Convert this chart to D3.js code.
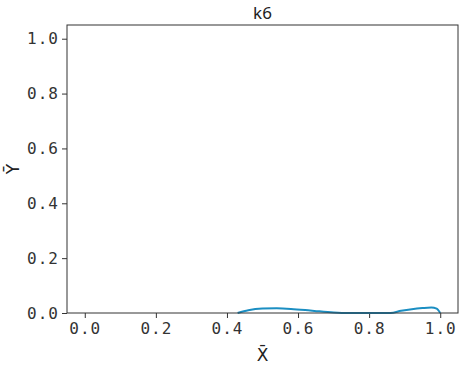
<!DOCTYPE html>
<html lang="en">
<head>
  <meta charset="UTF-8" />
  <title>k6</title>
  <script src="https://d3js.org/d3.v7.min.js"></script>
  <style>
    body { margin: 0; background: #fff; }
    .tick text { font-family: "DejaVu Sans Mono", monospace; font-size: 16px; fill: #333; }
  </style>
</head>
<body>
  <svg id="chart" width="460" height="365"></svg>
  <script>
    // curve values
    const xVals = [0.43, 0.46, 0.50, 0.54, 0.58, 0.62, 0.66, 0.70, 0.74, 0.80, 0.86, 0.89, 0.92, 0.95, 0.975, 0.99, 1.0];
    const yVals = [0, 0.010, 0.016, 0.017, 0.015, 0.011, 0.006, 0.002, 0, 0, 0, 0.008, 0.014, 0.018, 0.020, 0.016, 0];
    const tickVals = [0, 0.2, 0.4, 0.6, 0.8, 1.0];

    const margin = { top: 25, right: 2, bottom: 52, left: 67 },
          width = 460 - margin.left - margin.right,
          height = 365 - margin.top - margin.bottom;

    const svg = d3.select("#chart");
    const g = svg.append("g")
      .attr("transform", `translate(${margin.left},${margin.top})`);

    const x = d3.scaleLinear().domain([-0.05, 1.05]).range([0, width]);
    const y = d3.scaleLinear().domain([0, 1.05]).range([height, 0]);

    // axes
    const fmt = d3.format(".1f");
    g.append("g")
      .attr("transform", `translate(0,${height})`)
      .call(d3.axisBottom(x).tickValues(tickVals).tickFormat(fmt).tickSize(5).tickPadding(5))
      .call(a => a.select(".domain").remove());
    g.append("g")
      .call(d3.axisLeft(y).tickValues(tickVals).tickFormat(fmt).tickSize(5).tickPadding(3))
      .call(a => a.select(".domain").remove());
    g.selectAll(".tick line").attr("stroke", "#333");
    g.selectAll(".tick text").style("letter-spacing", "1px");

    // curve
    const pts = xVals.map((v, i) => [v, yVals[i]]);
    g.append("path")
      .datum(pts)
      .attr("fill", "none")
      .attr("stroke", "#1b8ec2")
      .attr("stroke-width", 2)
      .attr("d", d3.line().x(d => x(d[0])).y(d => y(d[1])).curve(d3.curveMonotoneX));

    // frame
    g.append("rect")
      .attr("width", width).attr("height", height)
      .attr("fill", "none").attr("stroke", "#333").attr("stroke-width", 1);

    // title and labels
    svg.append("text")
      .attr("x", margin.left + width / 2).attr("y", 19)
      .attr("text-anchor", "middle")
      .style("font-family", "'Noto Sans', sans-serif").style("font-size", "17px").style("fill", "#222")
      .text("k6");
    svg.append("text")
      .attr("x", margin.left + width / 2).attr("y", 361)
      .attr("text-anchor", "middle")
      .style("font-family", "'DejaVu Sans', sans-serif").style("font-size", "17px").style("fill", "#222")
      .text("X\u0304");
    svg.append("text")
      .attr("transform", `translate(19,${margin.top + height / 2}) rotate(-90)`)
      .attr("text-anchor", "middle")
      .style("font-family", "'DejaVu Sans', sans-serif").style("font-size", "17px").style("fill", "#222")
      .text("Y\u0304");
  </script>
</body>
</html>
